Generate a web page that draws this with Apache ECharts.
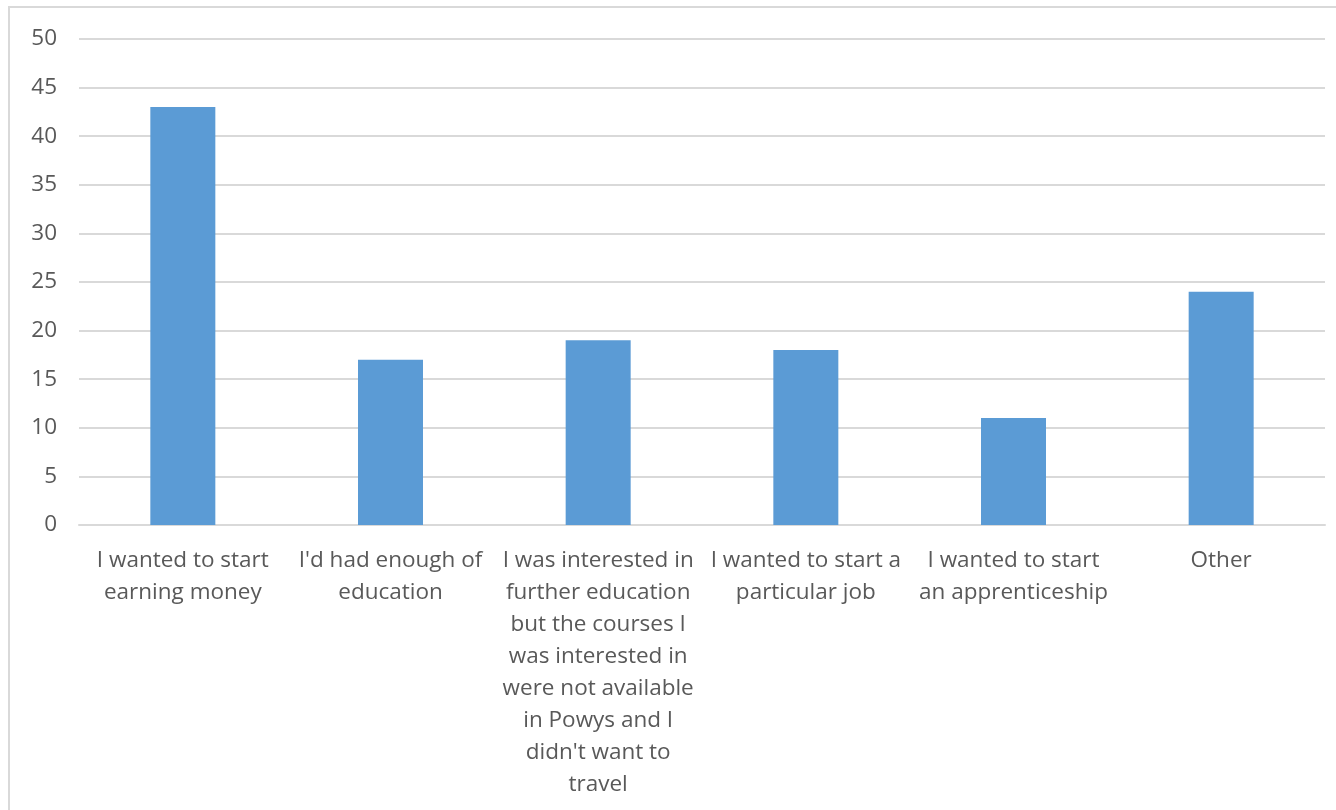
<!DOCTYPE html>
<html>
<head>
<meta charset="utf-8">
<script src="https://cdn.jsdelivr.net/npm/echarts@6/dist/echarts.min.js"></script>
<style>
html,body{margin:0;padding:0;background:#fff;}
#chart{width:1336px;height:810px;}
</style>
</head>
<body>
<div id="chart"></div>
<script>
var categories = [
  "I wanted to start\nearning money",
  "I'd had enough of\neducation",
  "I was interested in\nfurther education\nbut the courses I\nwas interested in\nwere not available\nin Powys and I\ndidn't want to\ntravel",
  "I wanted to start a\nparticular job",
  "I wanted to start\nan apprenticeship",
  "Other"
];
var values = [43, 17, 19, 18, 11, 24];
var yTicks = {min: 0, max: 50, interval: 5};

var chart = echarts.init(document.getElementById('chart'));
chart.setOption({
  animation: false,
  backgroundColor: '#ffffff',
  graphic: [{
    type: 'rect',
    shape: {x: 9, y: 7, width: 1345, height: 830},
    style: {fill: 'none', stroke: '#d9d9d9', lineWidth: 2},
    silent: true
  }],
  grid: {left: 79, right: 11, top: 39, bottom: 285, containLabel: false},
  xAxis: {
    type: 'category',
    data: categories,
    axisTick: {show: false},
    axisLine: {show: true, lineStyle: {color: '#d9d9d9', width: 2}},
    axisLabel: {
      interval: 0,
      color: '#595959',
      fontFamily: 'Open Sans',
      fontSize: 22.5,
      lineHeight: 32,
      margin: 20,
      align: 'center'
    }
  },
  yAxis: {
    type: 'value',
    min: yTicks.min,
    max: yTicks.max,
    interval: yTicks.interval,
    axisLine: {show: false},
    axisTick: {show: false},
    splitLine: {lineStyle: {color: '#d9d9d9', width: 2}},
    axisLabel: {
      color: '#595959',
      fontFamily: 'Open Sans',
      fontSize: 22.5,
      margin: 22
    }
  },
  series: [{
    type: 'bar',
    data: values,
    barWidth: 65,
    itemStyle: {color: '#5b9bd5'}
  }]
});
</script>
</body>
</html>
